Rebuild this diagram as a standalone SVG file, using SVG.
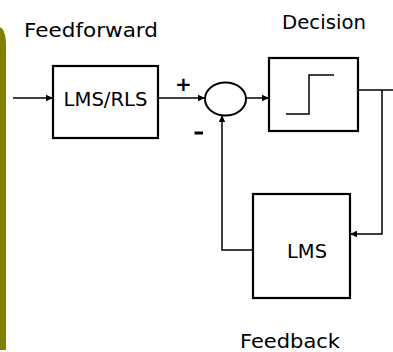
<svg xmlns="http://www.w3.org/2000/svg" width="393" height="352" viewBox="0 0 393 352">
<defs>
<marker id="ah" markerWidth="8" markerHeight="8" refX="7" refY="4" orient="auto" markerUnits="userSpaceOnUse">
<path d="M0,0.8 L7,4 L0,7.2 Z" fill="#000"/>
</marker>
<style>
.box{fill:#fff;stroke:#000;stroke-width:2.2}
.ln{fill:none;stroke:#000;stroke-width:1.5}
.lbl{font-family:"DejaVu Sans",sans-serif;font-size:19px;fill:#000}
.sgn{font-family:"DejaVu Sans",sans-serif;font-weight:bold;fill:#000}
</style>
</defs>
<rect width="393" height="352" fill="#fff"/>
<path d="M0,27 Q6,30 6,46 L6,350 L0,350 Z" fill="#808000"/>
<text class="lbl" x="24" y="37" textLength="134" lengthAdjust="spacingAndGlyphs">Feedforward</text>
<text class="lbl" x="282" y="29" textLength="84" lengthAdjust="spacingAndGlyphs">Decision</text>
<text class="lbl" x="240" y="348" textLength="100" lengthAdjust="spacingAndGlyphs">Feedback</text>
<g id="connectors">
<line class="ln" x1="13" y1="98" x2="53" y2="98" marker-end="url(#ah)"/>
<line class="ln" x1="158" y1="98" x2="205" y2="98" marker-end="url(#ah)"/>
<line class="ln" x1="246" y1="98" x2="269" y2="98" marker-end="url(#ah)"/>
<line class="ln" x1="358" y1="90" x2="393" y2="90"/>
<polyline class="ln" points="382,90 382,234 350,234" marker-end="url(#ah)"/>
<polyline class="ln" points="253,250 222,250 222,115" marker-end="url(#ah)"/>
</g>
<g id="lmsrls">
<rect class="box" x="53" y="66" width="105" height="72"/>
<text class="lbl" x="105.5" y="106" text-anchor="middle" textLength="84" lengthAdjust="spacingAndGlyphs">LMS/RLS</text>
</g>
<g id="sum">
<ellipse cx="225.5" cy="99" rx="20.5" ry="16.5" fill="#fff" stroke="#000" stroke-width="2"/>
<text class="sgn" x="183.5" y="91" font-size="20" text-anchor="middle">+</text>
<rect x="194.5" y="131.5" width="8.5" height="3" fill="#000"/>
</g>
<g id="decision">
<rect class="box" x="269" y="58" width="89" height="73"/>
<polyline class="ln" points="286,114 309,114 309,75 334,75"/>
</g>
<g id="lms">
<rect class="box" x="253" y="194" width="97" height="104"/>
<text class="lbl" x="307" y="258" text-anchor="middle" textLength="40" lengthAdjust="spacingAndGlyphs">LMS</text>
</g>
</svg>
